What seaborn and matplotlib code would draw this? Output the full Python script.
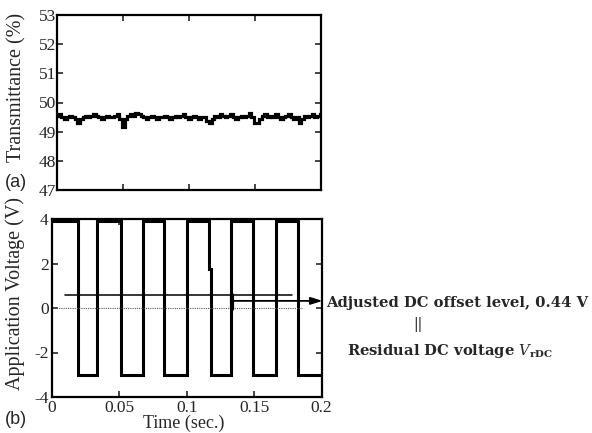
import numpy as np
import pandas as pd
import matplotlib
matplotlib.use("Agg")
import matplotlib.pyplot as plt
import seaborn as sns

# ---- data ----
trans = [49.55, 49.6, 49.5, 49.45, 49.5, 49.55, 49.5, 49.45, 49.3, 49.45,
         49.5, 49.55, 49.5, 49.55, 49.6, 49.55, 49.5, 49.45, 49.5, 49.55,
         49.5, 49.5, 49.55, 49.6, 49.45, 49.15, 49.45, 49.55, 49.6, 49.55,
         49.65, 49.6, 49.55, 49.5, 49.45, 49.5, 49.55, 49.5, 49.45, 49.5,
         49.5, 49.55, 49.5, 49.45, 49.5, 49.55, 49.5, 49.55, 49.6, 49.5,
         49.45, 49.5, 49.55, 49.5, 49.45, 49.5, 49.5, 49.35, 49.3, 49.45,
         49.55, 49.5, 49.6, 49.55, 49.5, 49.55, 49.6, 49.5, 49.45, 49.5,
         49.55, 49.5, 49.55, 49.65, 49.5, 49.3, 49.3, 49.45, 49.55, 49.6,
         49.5, 49.55, 49.5, 49.6, 49.5, 49.45, 49.5, 49.55, 49.6, 49.5,
         49.45, 49.5, 49.3, 49.45, 49.55, 49.5, 49.55, 49.6, 49.5, 49.55, 49.6]
trans_t = np.linspace(0, 0.2, len(trans))

wave_t = [0, 0.019, 0.0333, 0.0511, 0.0674, 0.0832, 0.1, 0.1165, 0.1178,
          0.1326, 0.1493, 0.1661, 0.1827, 0.2]
wave_v = [3.9, -3, 3.9, -3, 3.9, -3, 3.9, 1.75, -3, 3.9, -3, 3.9, -3, -3]

offset_line_level = 0.57
offset_line_t = [0.01, 0.178]
marker_t = 0.1338
arrow_level = 0.32

top_yticks = [47, 48, 49, 50, 51, 52, 53]
bot_yticks = [-4, -2, 0, 2, 4]
xticks = [0, 0.05, 0.1, 0.15, 0.2]
xticklabels = ["0", "0.05", "0.1", "0.15", "0.2"]

sns.set_style("ticks")
plt.rcParams['font.family'] = ['Liberation Serif', 'DejaVu Serif']
plt.rcParams['mathtext.fontset'] = 'dejavuserif'
plt.rcParams['axes.unicode_minus'] = False

W, H = 592, 433
fig = plt.figure(figsize=(W / 100, H / 100), dpi=100)

def box(l, t, r, b):
    return [l / W, 1 - b / H, (r - l) / W, (b - t) / H]

ax1 = fig.add_axes(box(57.5, 15, 321, 190))
ax2 = fig.add_axes(box(52, 219, 321.5, 397))

df1 = pd.DataFrame({"t": trans_t, "T": trans})
sns.lineplot(data=df1, x="t", y="T", ax=ax1, color="black", lw=2.3,
             drawstyle="steps-mid", estimator=None, solid_capstyle="butt",
             solid_joinstyle="miter")
ax1.set_xlim(0, 0.2)
ax1.set_ylim(47, 53)
ax1.set_yticks(top_yticks)
ax1.set_xticks(xticks)
ax1.set_xticklabels([])
ax1.set_xlabel("")
ax1.set_ylabel("Transmittance (%)", fontsize=14.5)
ax1.yaxis.set_label_coords(-0.116, 0.586)

df2 = pd.DataFrame({"t": wave_t, "V": wave_v})
sns.lineplot(data=df2, x="t", y="V", ax=ax2, color="black", lw=2.2,
             drawstyle="steps-post", estimator=None, solid_joinstyle="miter")
ax2.set_xlim(0, 0.2)
ax2.set_ylim(-4, 4)
ax2.set_yticks(bot_yticks)
ax2.set_xticks(xticks)
ax2.set_xticklabels(xticklabels)
ax2.set_xlabel("Time (sec.)", fontsize=13)
ax2.xaxis.set_label_coords(0.49, -0.098)
ax2.set_ylabel("Application Voltage (V)", fontsize=14.5)
ax2.yaxis.set_label_coords(-0.1, 0.584)

# dotted zero line
ax2.plot([0, 0.186], [0, 0], color="#555555", lw=0.8, ls=(0, (1, 1)))
# offset level line
ax2.plot(offset_line_t, [offset_line_level] * 2, color="black", lw=1.1)
# marker bar
ax2.plot([marker_t, marker_t], [-0.05, offset_line_level], color="black", lw=3)
# arrow
ax2.annotate("", xy=(0.2008, arrow_level), xytext=(marker_t, arrow_level),
             xycoords="data", annotation_clip=False,
             arrowprops=dict(arrowstyle="-|>,head_length=0.7,head_width=0.22",
                             color="black", lw=1.3, shrinkA=0, shrinkB=0))

for ax in (ax1, ax2):
    for s in ax.spines.values():
        s.set_visible(True)
        s.set_linewidth(1.6)
        s.set_color("black")
    ax.tick_params(direction="in", top=True, right=True, length=4,
                   width=1.2, labelsize=12.5, pad=1)
ax2.tick_params(axis="x", pad=2)
ax2.tick_params(axis="y", pad=2.5)

fig.text(326 / W, 1 - 303 / H, "Adjusted DC offset level, 0.44 V",
         fontsize=10.6, fontweight="bold", family="DejaVu Serif",
         va="center", ha="left")
fig.text(418 / W, 1 - 324 / H, "||", fontsize=10, family="DejaVu Serif",
         va="center", ha="center")
fig.text(347 / W, 1 - 351 / H,
         r"Residual DC voltage $\mathit{V}_{\mathbf{rDC}}$",
         fontsize=10.6, fontweight="bold", family="DejaVu Serif",
         va="center", ha="left")

fig.text(5 / W, 1 - 183 / H, "(a)", fontsize=13, family="Liberation Sans",
         va="center", ha="left")
fig.text(5 / W, 1 - 420 / H, "(b)", fontsize=13, family="Liberation Sans",
         va="center", ha="left")

fig.savefig("out.png", dpi=100)
